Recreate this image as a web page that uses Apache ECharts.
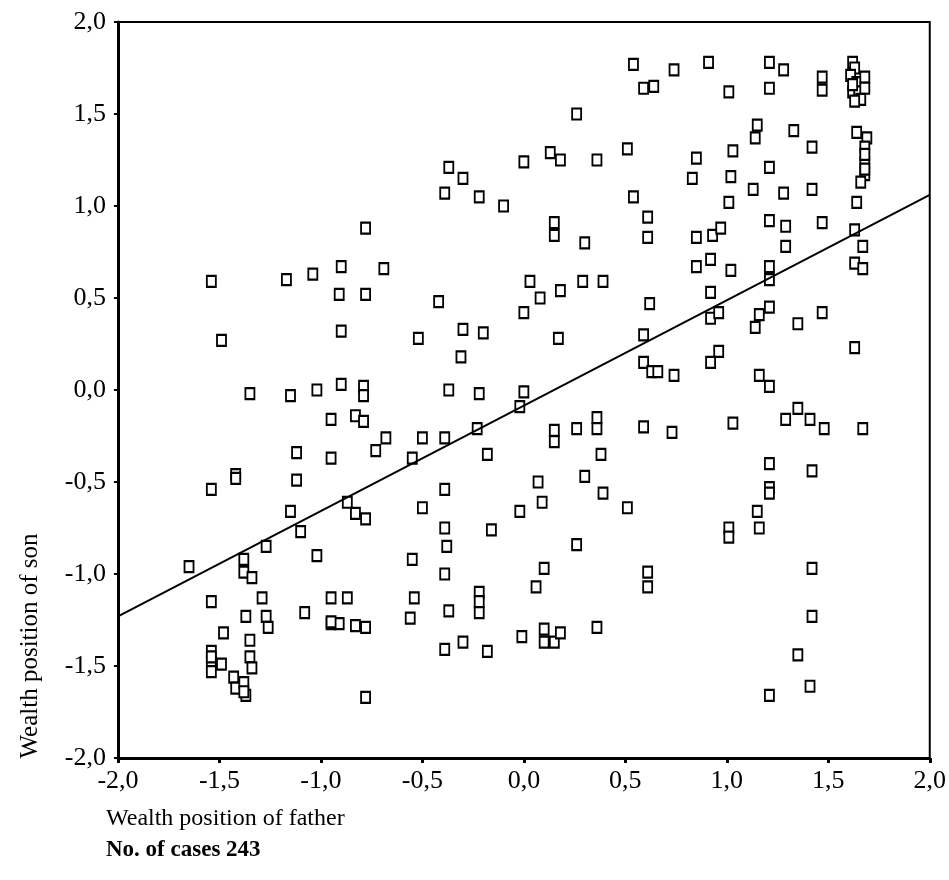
<!DOCTYPE html>
<html>
<head>
<meta charset="utf-8">
<script src="https://cdn.jsdelivr.net/npm/echarts@6/dist/echarts.min.js"></script>
<style>
html,body{margin:0;padding:0;background:#fff;}
#chart{width:949px;height:880px;}
</style>
</head>
<body>
<div id="chart"></div>
<script>
// Wealth position of father (x) and son (y), 243 cases
var fatherX = [
 0.54,0.59,0.64,0.26,-0.37,-0.30,-0.39,-0.22,-0.10,0.00,0.13,0.18,0.36,0.51,0.54,
 0.74,0.91,1.21,1.28,1.47,1.47,1.01,1.21,1.62,1.63,1.61,1.64,1.62,1.65,1.68,1.68,1.66,
 1.15,1.14,1.33,1.42,1.64,1.69,1.68,1.68,1.68,1.66,0.85,1.03,1.21,0.83,1.02,1.13,1.28,1.42,1.01,1.64,
 -0.78,-1.54,-1.17,-1.04,-0.90,-0.91,-0.78,-1.49,-0.90,-1.35,-1.15,-1.02,-0.90,-0.79,-0.79,
 0.15,0.15,0.30,0.61,0.61,-0.69,-0.42,-0.52,-0.30,-0.20,-0.31,0.03,0.08,0.18,0.29,0.39,0.00,0.62,0.17,0.59,0.59,0.63,-0.37,-0.22,0.00,
 1.21,1.29,1.47,0.85,0.93,0.97,1.63,1.67,1.29,0.85,0.92,1.02,1.21,1.21,1.63,1.67,0.92,0.92,0.96,1.21,1.16,1.14,1.35,1.47,1.63,0.96,0.92,0.66,0.74,1.16,1.21,
 -0.95,-0.83,-0.79,-1.12,-0.95,-0.73,-1.42,-1.42,-1.54,-1.12,-1.15,-1.10,-1.02,-0.87,-0.83,-0.78,-1.27,-1.38,-1.38,-1.34,-1.65,
 -0.02,-0.68,-0.50,-0.39,-0.23,-0.55,-0.18,0.15,0.15,0.26,0.36,0.36,0.59,0.38,-0.39,-0.50,0.07,0.09,-0.02,0.30,0.39,0.51,-0.39,-0.38,-0.16,0.26,-0.55,-0.39,0.10,0.06,0.61,0.61,
 0.73,1.03,1.29,1.35,1.41,1.48,1.67,1.21,1.42,1.21,1.21,1.15,1.16,1.01,1.01,1.42,
 -1.54,-1.29,-1.48,-1.37,-1.27,-1.26,-1.08,-0.95,-0.87,-0.95,-0.91,-0.83,-0.78,-1.54,-1.54,-1.54,-1.49,-1.35,-1.35,-1.34,-1.43,-1.42,-1.38,-1.37,-0.78,
 -0.54,-0.56,-0.37,-0.22,-0.22,-0.22,-0.39,-0.30,-0.18,-0.01,0.10,0.10,0.15,0.18,0.36,
 1.42,1.35,1.41,1.21,
 1.62,1.63,1.68,1.68,-1.38,-1.54,-0.95
];
var sonY = [
 1.77,1.64,1.65,1.50,1.21,1.15,1.07,1.05,1.00,1.24,1.29,1.25,1.25,1.31,1.05,
 1.74,1.78,1.78,1.74,1.70,1.63,1.62,1.64,1.78,1.75,1.71,1.67,1.62,1.62,1.70,1.64,1.58,
 1.44,1.37,1.41,1.32,1.40,1.37,1.32,1.24,1.17,1.13,1.26,1.30,1.21,1.15,1.16,1.09,1.07,1.09,1.02,1.02,
 0.88,0.59,0.60,0.63,0.67,0.52,0.52,0.27,0.32,-0.02,-0.03,0.00,0.03,0.02,-0.03,
 0.91,0.84,0.80,0.94,0.83,0.66,0.48,0.28,0.33,0.31,0.18,0.59,0.50,0.54,0.59,0.59,0.42,0.47,0.28,0.30,0.15,0.10,0.00,-0.02,-0.01,
 0.92,0.89,0.91,0.83,0.84,0.88,0.87,0.78,0.78,0.67,0.71,0.65,0.67,0.60,0.69,0.66,0.53,0.39,0.42,0.45,0.41,0.34,0.36,0.42,0.23,0.21,0.15,0.10,0.08,0.08,0.02,
 -0.16,-0.14,-0.17,-0.34,-0.37,-0.33,-0.46,-0.48,-0.54,-0.49,-0.66,-0.77,-0.90,-0.61,-0.67,-0.70,-0.85,-0.92,-0.99,-1.02,-0.96,
 -0.09,-0.26,-0.26,-0.26,-0.21,-0.37,-0.35,-0.22,-0.28,-0.21,-0.15,-0.21,-0.20,-0.35,-0.54,-0.64,-0.50,-0.61,-0.66,-0.47,-0.56,-0.64,-0.75,-0.85,-0.76,-0.84,-0.92,-1.00,-0.97,-1.07,-0.99,-1.07,
 -0.23,-0.18,-0.16,-0.10,-0.16,-0.21,-0.21,-0.40,-0.44,-0.53,-0.56,-0.66,-0.75,-0.75,-0.80,-0.97,
 -1.15,-1.13,-1.32,-1.23,-1.23,-1.29,-1.21,-1.13,-1.13,-1.27,-1.27,-1.28,-1.29,-1.42,-1.48,-1.53,-1.49,-1.36,-1.45,-1.51,-1.56,-1.62,-1.59,-1.66,-1.67,
 -1.13,-1.24,-1.20,-1.10,-1.15,-1.21,-1.41,-1.37,-1.42,-1.34,-1.30,-1.37,-1.37,-1.32,-1.29,
 -1.23,-1.44,-1.61,-1.66,
 1.66,1.57,1.20,1.28,-1.64,-1.45,-1.26
];
// Regression line end points
var lineX = [-2.0, 2.0];
var lineY = [-1.23, 1.06];
// Axis ticks
var axisMin = -2.0, axisMax = 2.0, axisStep = 0.5;

var pts = fatherX.map(function(x, i){ return [x, sonY[i]]; });
var linePts = lineX.map(function(x, i){ return [x, lineY[i]]; });

function fmt(v){ return v.toFixed(1).replace('.', ','); }

var FONT = '"Liberation Serif","DejaVu Serif",serif';
var chart = echarts.init(document.getElementById('chart'), null, {renderer:'canvas'});
chart.setOption({
  animation:false,
  backgroundColor:'#fff',
  grid:{left:118, top:22, width:816, height:736, show:true, borderColor:'#000', borderWidth:2, backgroundColor:'transparent'},
  xAxis:{
    type:'value', min:axisMin, max:axisMax, interval:axisStep,
    splitLine:{show:false},
    axisLine:{show:true, onZero:false, lineStyle:{color:'#000', width:3}},
    axisTick:{show:true, length:5, lineStyle:{color:'#000', width:3}},
    axisLabel:{formatter:fmt, color:'#000', fontFamily:FONT, fontSize:26, margin:10}
  },
  yAxis:{
    type:'value', min:axisMin, max:axisMax, interval:axisStep,
    splitLine:{show:false},
    axisLine:{show:true, onZero:false, lineStyle:{color:'#000', width:3}},
    axisTick:{show:true, length:4, lineStyle:{color:'#000', width:2}},
    axisLabel:{formatter:fmt, color:'#000', fontFamily:FONT, fontSize:26, margin:12}
  },
  series:[
    {type:'scatter', data:pts, symbol:'rect', symbolSize:[9,11],
     itemStyle:{color:'#fff', borderColor:'#000', borderWidth:2, opacity:1}},
    {type:'line', data:linePts, symbol:'none', lineStyle:{color:'#000', width:2}, z:3}
  ],
  graphic:[
    {type:'text', x:30, y:646, rotation:Math.PI/2, style:{text:'Wealth position of son', font:'25px '+FONT, fill:'#000', textAlign:'center', textVerticalAlign:'middle'}},
    {type:'text', x:106, y:807, style:{text:'Wealth position of father', font:'24px '+FONT, fill:'#000'}},
    {type:'text', x:106, y:839, style:{text:'No. of cases 243', font:'bold 23px '+FONT, fill:'#000'}}
  ]
});
</script>
</body>
</html>
